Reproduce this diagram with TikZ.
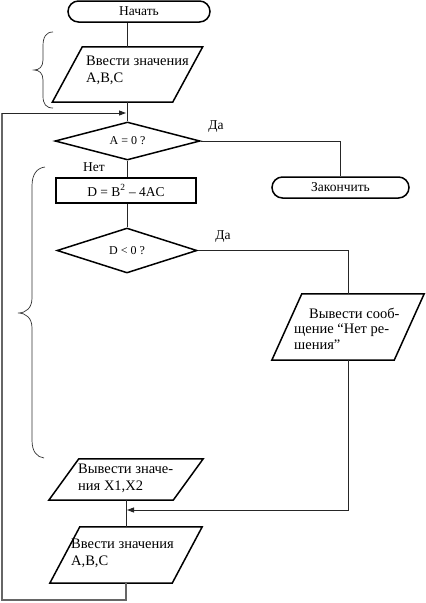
\documentclass[tikz,border=0pt]{standalone}
\usepackage{fontspec}
\setmainfont{Liberation Serif}
\usetikzlibrary{shapes.geometric,shapes.misc,arrows.meta}
\newcommand\drawio[1]{\draw[shp] ([xshift=15pt]#1.north west) -- ([xshift=15pt]#1.north east) -- ([xshift=-15pt]#1.south east) -- ([xshift=-15pt]#1.south west) -- cycle;}
\begin{document}
\begin{tikzpicture}[x=1pt,y=-1pt,
  font=\fontsize{13.5}{16}\selectfont,
  shp/.style={draw=black, line width=1.5pt},
  term/.style={rounded rectangle, draw=black, line width=1.5pt, inner sep=0pt},
  dec/.style={diamond, aspect=3, draw=black, line width=1.5pt, inner sep=0pt, font=\fontsize{12}{14}\selectfont},
  proc/.style={rectangle, draw=black, line width=1.5pt, inner sep=0pt},
  io/.style={rectangle, draw=none, inner sep=0pt},
  txt/.style={align=left, inner sep=0pt, anchor=base west, font=\fontsize{14.5}{17}\selectfont},
  lbl/.style={inner sep=0pt},
  conn/.style={draw=black!85, line width=0.9pt},
  loopl/.style={draw=black!60, line width=1.4pt},
  arr/.style={-{Triangle[length=7pt,width=5pt]}},
  brc/.style={draw=black!80, line width=0.7pt}
]
\useasboundingbox (0,0) rectangle (426,603);

% shapes
\node[term, minimum width=142, minimum height=21] (start) at (139,11.5) {Начать};
\node[io, minimum width=120, minimum height=55] (p1) at (127.5,74.5) {};
\drawio{p1}
\node[txt] (p1t) at (86,82.7) {Ввести значения\\A,B,C};

\node[dec, minimum width=145, minimum height=38] (d1) at (127.5,141) {A = 0 ?};
\node[term, minimum width=137, minimum height=21] (end) at (340.5,187.5) {Закончить};
\node[proc, minimum width=140, minimum height=25] (r1) at (126,190.5) {D = B\textsuperscript{2} – 4AC};
\node[dec, minimum width=140, minimum height=45] (d2) at (127,250.5) {D < 0 ?};

\node[io, minimum width=122, minimum height=66] (p3) at (348,327) {};
\drawio{p3}
\node[txt] (p3t) at (294,349) {\hspace*{15pt}Вывести сооб-\\[-1.5pt]щение “Нет ре-\\[-1.5pt]шения”};

\node[io, minimum width=124, minimum height=41] (p4) at (126,479.5) {};
\drawio{p4}
\node[txt] (p4t) at (78,490) {Вывести значе-\\ния X1,X2};

\node[io, minimum width=122, minimum height=56] (p5) at (126,555) {};
\drawio{p5}
\node[txt] (p5t) at (71,565) {Ввести значения\\A,B,C};

% labels
\node[lbl] (da1) at (216,127) {Да};
\node[lbl] (da2) at (223,237) {Да};
\node[lbl] (net) at (94,167) {Нет};

% junctions
\coordinate (j1) at (126,113);
\coordinate (j2) at (127,510);
\coordinate (c1) at (2,600);

% connectors
\draw[conn] (start.south -| p1.north) -- (p1.north);
\draw[conn] (p1.south) -- (d1.north);
\draw[conn] (d1.east) -| (end.north);
\draw[conn] (d1.south) -- (d1.south |- r1.north);
\draw[conn] (r1.south -| d2.north) -- (d2.north);
\draw[conn] (d2.east) -| (p3.north);
\draw[conn, arr] (p3.south) |- (j2);
\draw[conn] (p4.south) -- (p5.north);
\draw[loopl] (p5.south) -- (p5.south |- c1) -- (c1) -- (c1 |- j1);
\draw[conn, arr] (c1 |- j1) -- (j1);

% braces
\draw[brc] (53,32) .. controls (46,32) and (43,37) .. (43,46) -- (43,60) .. controls (43,67) and (39,70) .. (34,70) .. controls (39,70) and (43,73) .. (43,80) -- (43,96) .. controls (43,104) and (46,108) .. (53,108);
\draw[brc] (45,167) .. controls (37,168) and (32,174) .. (32,186) -- (32,298) .. controls (32,308) and (26,313) .. (18,313) .. controls (26,313) and (32,318) .. (32,328) -- (32,440) .. controls (32,452) and (37,457) .. (44,458);
\end{tikzpicture}
\end{document}
